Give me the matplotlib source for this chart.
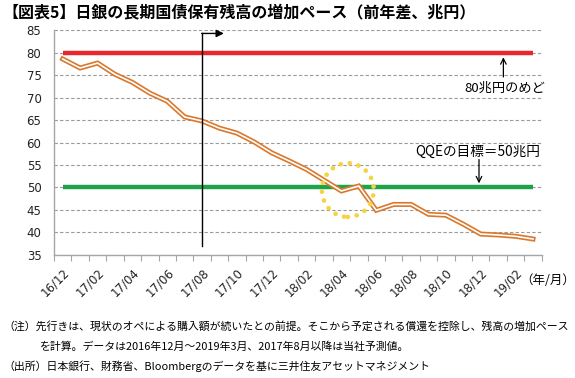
import matplotlib.pyplot as plt
from matplotlib.patches import Ellipse
import numpy as np

# monthly categories 16/12 .. 19/03
months = ["16/12", "17/01", "17/02", "17/03", "17/04", "17/05", "17/06", "17/07",
          "17/08", "17/09", "17/10", "17/11", "17/12", "18/01", "18/02", "18/03",
          "18/04", "18/05", "18/06", "18/07", "18/08", "18/09", "18/10", "18/11",
          "18/12", "19/01", "19/02", "19/03"]
holdings_yoy = [78.6, 76.6, 77.7, 75.2, 73.4, 71.0, 69.2, 65.7,
                64.8, 63.2, 62.1, 60.1, 57.7, 55.9, 54.0, 51.6,
                49.2, 50.3, 44.9, 46.2, 46.2, 44.0, 43.8, 41.8,
                39.6, 39.4, 39.1, 38.5]
target_80 = 80
target_qqe = 50
forecast_start = "17/08"

plt.rcParams['font.family'] = ['DejaVu Sans', 'Noto Sans CJK JP']
jp = ['Noto Sans CJK JP', 'DejaVu Sans']

fig = plt.figure(figsize=(5.75, 3.78), dpi=100)
ax = fig.add_axes([54 / 575, 1 - 254.7 / 378, (541.7 - 54) / 575, (254.7 - 30.3) / 378])

x = np.arange(len(months))

# target lines
ax.plot([x[0], x[-1]], [target_80, target_80], color="#E8262C", lw=3.2, solid_capstyle="butt", zorder=3)
ax.plot([x[0], x[-1]], [target_qqe, target_qqe], color="#1FA34A", lw=3.2, solid_capstyle="butt", zorder=3)

# double line (orange outline, white core)
ax.plot(x, holdings_yoy, color="#D9782D", lw=3.6, solid_joinstyle="miter", zorder=4)
ax.plot(x, holdings_yoy, color="white", lw=1.2, solid_joinstyle="miter", zorder=5)

# forecast marker
fx = months.index(forecast_start)
ax.plot([fx, fx], [37, 84.3], color="black", lw=1, zorder=6)
ax.annotate("", xy=(fx + 1.25, 84.3), xytext=(fx - 0.02, 84.3),
            arrowprops=dict(arrowstyle="-|>", color="black", lw=1, mutation_scale=11,
                            shrinkA=0, shrinkB=0), zorder=6)

# dotted circle around 18/04-18/05
circ = Ellipse((16.37, 49.4), 2.98, 12, fill=False, edgecolor="#F3D544", lw=3.4,
               linestyle=(0, (0.01, 1.9)), zorder=7)
circ.set_capstyle("round")
ax.add_patch(circ)

# annotations
ax.annotate("", xy=(25.3, 79.0), xytext=(25.3, 74.6),
            arrowprops=dict(arrowstyle="->", color="black", lw=0.9, shrinkA=0, shrinkB=0))
ax.text(25.4, 72.1, "80兆円のめど", family=jp, fontsize=9.5, ha="center", va="center")
ax.annotate("", xy=(23.9, 50.9), xytext=(23.9, 56.2),
            arrowprops=dict(arrowstyle="->", color="black", lw=0.9, shrinkA=0, shrinkB=0))
ax.text(23.85, 57.9, "QQEの目標＝50兆円", family=jp, fontsize=9.8, ha="center", va="center")

# axes styling
ax.set_xlim(-0.5, len(months) - 0.5)
ax.set_ylim(35, 85)
ax.set_yticks(np.arange(35, 86, 5))
ax.yaxis.grid(True, linestyle=(0, (3, 2)), color="#9A9A9A", lw=0.8)
ax.set_axisbelow(True)
ax.tick_params(axis="y", length=0, pad=9, labelsize=8.5, colors="#222222")

ax.set_xticks(x[::2])
ax.set_xticklabels(months[::2], rotation=45, ha="right", va="top", rotation_mode="anchor")
ax.set_xticks(np.arange(-0.5, len(months), 1), minor=True)
ax.tick_params(axis="x", which="major", length=0, pad=8, labelsize=8.5, colors="#222222")
ax.tick_params(axis="x", which="minor", length=4, width=0.8, color="#A6A6A6", direction="out")

for s in ["top", "right"]:
    ax.spines[s].set_visible(False)
for s in ["left", "bottom"]:
    ax.spines[s].set_color("#A6A6A6")
    ax.spines[s].set_linewidth(1.0)

# titles / notes
fig.text(0.005, 1 - 12 / 378, "【図表5】日銀の長期国債保有残高の増加ペース（前年差、兆円）",
         family=jp, fontsize=11.5, fontweight="bold", va="center", ha="left")
fig.text(548 / 575, 1 - 281 / 378, "（年/月）", family=jp, fontsize=9, va="center", ha="center")
fig.text(3 / 575, 1 - 326 / 378,
         "（注）先行きは、現状のオペによる購入額が続いたとの前提。そこから予定される償還を控除し、残高の増加ペース",
         family=jp, fontsize=7.85, va="center", ha="left")
fig.text(40 / 575, 1 - 346.5 / 378,
         "を計算。データは2016年12月～2019年3月、2017年8月以降は当社予測値。",
         family=jp, fontsize=7.85, va="center", ha="left")
fig.text(3 / 575, 1 - 366.5 / 378,
         "（出所）日本銀行、財務省、Bloombergのデータを基に三井住友アセットマネジメント",
         family=jp, fontsize=7.85, va="center", ha="left")

plt.savefig("out.png", dpi=100)
plt.close()
